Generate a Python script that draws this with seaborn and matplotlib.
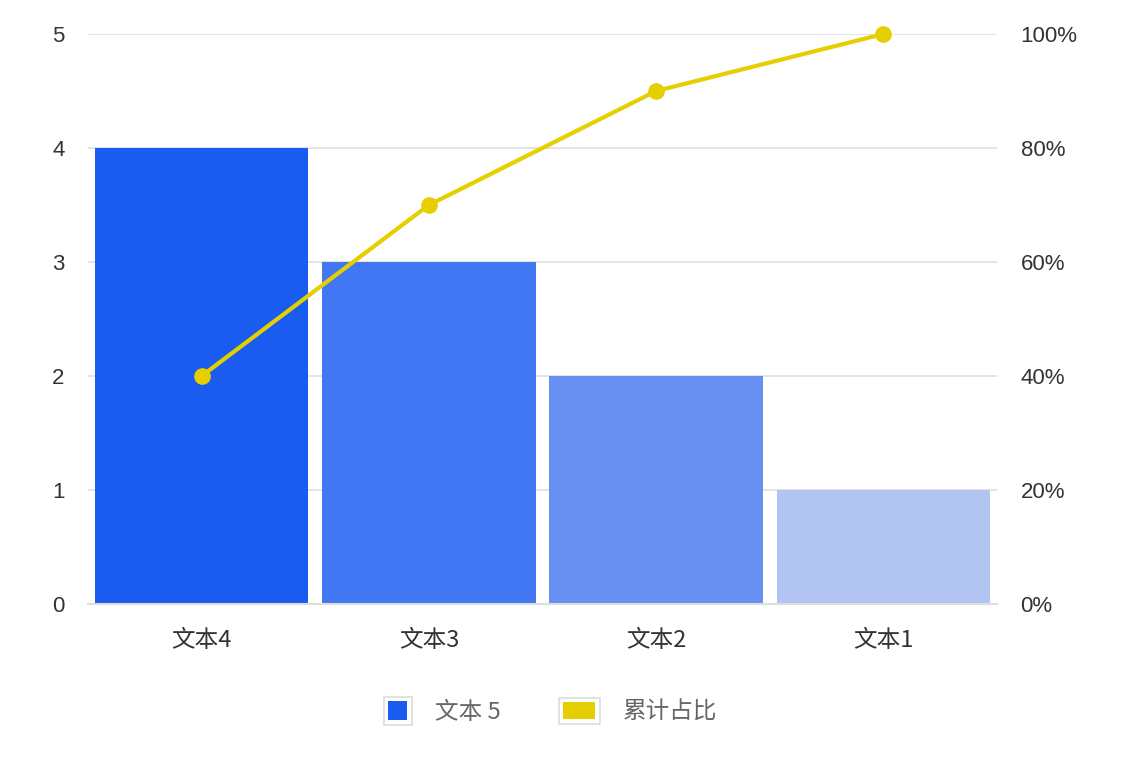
import matplotlib
matplotlib.use("Agg")
import matplotlib.pyplot as plt
import seaborn as sns
import pandas as pd
from matplotlib.patches import Patch, Rectangle
from matplotlib.legend_handler import HandlerBase
from matplotlib.ticker import FuncFormatter

categories = ["文本4", "文本3", "文本2", "文本1"]
values = [4, 3, 2, 1]
cum_pct = [40, 70, 90, 100]
bar_colors = ["#1a5cf0", "#4177f2", "#6890f2", "#b2c5f2"]
line_color = "#e6cf00"
y_ticks = [0, 1, 2, 3, 4, 5]
pct_ticks = [0, 20, 40, 60, 80, 100]
bar_label = "文本 5"
line_label = "累计占比"

sns.set_theme(style="white")
plt.rcParams['font.family'] = ['Noto Sans CJK SC', 'DejaVu Sans']

df = pd.DataFrame({"cat": categories, "val": values, "pct": cum_pct})

fig = plt.figure(figsize=(11.26, 7.64), dpi=100)
ax = fig.add_axes([88/1126, 1-604/764, (997-88)/1126, (604-34)/764])

sns.barplot(data=df, x="cat", y="val", hue="cat", palette=bar_colors,
            width=0.94, legend=False, ax=ax, zorder=2, saturation=1, linewidth=0)
ax.set_ylim(0, 5)
ax.set_xlim(-0.5, 3.5)
ax.set_yticks(y_ticks)
ax.yaxis.grid(True, color="#dddddd", linewidth=1.1, zorder=0)
ax.set_axisbelow(True)
for s in ["top", "right", "left"]:
    ax.spines[s].set_visible(False)
ax.spines["bottom"].set_color("#dddddd")
ax.spines["bottom"].set_linewidth(1.5)
ax.set_xlabel("")
ax.set_ylabel("")
ax.tick_params(axis="x", length=0, labelsize=17, colors="#333333", pad=18)
ax.tick_params(axis="y", length=0, labelsize=16, colors="#333333", pad=17)
for lab in ax.get_yticklabels():
    lab.set_fontfamily(['Liberation Sans'])

ax2 = ax.twinx()
sns.lineplot(data=df, x="cat", y="pct", color=line_color, linewidth=3,
             marker="o", markersize=12, markeredgewidth=0, ax=ax2, zorder=3, clip_on=False)
ax2.set_ylim(0, 100)
ax2.set_yticks(pct_ticks)
ax2.yaxis.set_major_formatter(FuncFormatter(lambda v, p: f"{int(v)}%"))
for s in ["top", "right", "left", "bottom"]:
    ax2.spines[s].set_visible(False)
ax2.set_ylabel("")
ax2.tick_params(axis="y", length=0, labelsize=16, colors="#333333", pad=17)
for lab in ax2.get_yticklabels():
    lab.set_fontfamily(['Liberation Sans'])
ax2.grid(False)


class BoxHandler(HandlerBase):
    def __init__(self, w, h, inset):
        super().__init__()
        self.w, self.h, self.inset = w, h, inset

    def create_artists(self, legend, orig_handle, xdescent, ydescent, width, height, fontsize, trans):
        right = -xdescent + width
        cy = -ydescent + height / 2
        x0 = right - self.w
        y0 = cy - self.h / 2
        outer = Rectangle((x0, y0), self.w, self.h, facecolor="white",
                          edgecolor="#dddddd", linewidth=1.2, transform=trans)
        inner = Rectangle((x0 + self.inset, y0 + self.inset), self.w - 2 * self.inset,
                          self.h - 2 * self.inset, facecolor=orig_handle.get_facecolor(),
                          linewidth=0, transform=trans)
        return [outer, inner]


px = 0.72
h_bar = Patch(facecolor=bar_colors[0], label=bar_label)
h_line = Patch(facecolor=line_color, label=line_label)
fs = 17
leg = fig.legend(handles=[h_bar, h_line], loc="center", bbox_to_anchor=(544/1126, 1-712/764),
                 ncol=2, frameon=False, fontsize=fs, handlelength=41*px/fs, handleheight=1.0,
                 columnspacing=58*px/fs, handletextpad=23*px/fs, labelcolor="#666666",
                 handler_map={h_bar: BoxHandler(28*px, 28*px, 4.5*px),
                              h_line: BoxHandler(41*px, 26*px, 4.5*px)})

fig.savefig("out.png", dpi=100)
